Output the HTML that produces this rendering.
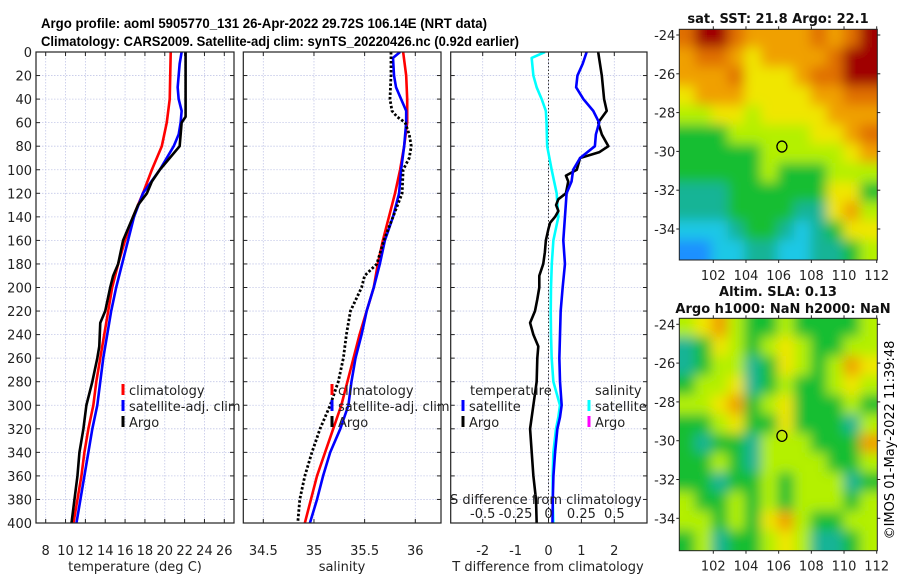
<!DOCTYPE html>
<html><head><meta charset="utf-8"><style>
html,body{margin:0;padding:0;background:#fff;}
svg{display:block;font-family:"DejaVu Sans","Liberation Sans",sans-serif;}
</style></head><body>
<svg id="fig" width="900" height="580" viewBox="0 0 900 580" xmlns="http://www.w3.org/2000/svg">
<defs>
<filter id="blur1" filterUnits="userSpaceOnUse" x="600" y="0" width="300" height="580"><feGaussianBlur stdDeviation="6"/></filter>
<clipPath id="clipMap1"><rect x="679.3" y="29.3" width="198" height="230.7"/></clipPath>
<clipPath id="clipMap2"><rect x="679.3" y="318.3" width="198" height="232.4"/></clipPath>
<clipPath id="clipP1"><rect x="36" y="52" width="198" height="471"/></clipPath>
<clipPath id="clipP2"><rect x="243.3" y="52" width="197.7" height="471"/></clipPath>
<clipPath id="clipP3"><rect x="450.7" y="52" width="196.3" height="471"/></clipPath>
</defs>
<text x="41" y="28" font-size="14" font-weight="bold" font-family="Liberation Sans, sans-serif" textLength="446" lengthAdjust="spacingAndGlyphs">Argo profile: aoml 5905770_131 26-Apr-2022 29.72S 106.14E (NRT data)</text>
<text x="41" y="46" font-size="14" font-weight="bold" font-family="Liberation Sans, sans-serif" textLength="478" lengthAdjust="spacingAndGlyphs">Climatology: CARS2009. Satellite-adj clim: synTS_20220426.nc (0.92d earlier)</text>
<g id="g1"></g>
<g id="g2"></g>
<g id="g3"></g>
<g id="m1"></g>
<g id="m2"></g>
<text transform="translate(894,440) rotate(-90)" text-anchor="middle" font-size="13">©IMOS 01-May-2022 11:39:48</text>
</svg>
<script>
const depth = [0,20,40,60,80,100,120,140,160,180,200,220,240,260,280,300,320,340,360,380,400];
const tempClim = [20.6,20.55,20.5,20.2,19.7,18.7,17.8,16.8,16.0,15.3,14.7,14.3,13.9,13.5,13.1,12.8,12.3,11.9,11.6,11.2,10.8];
const tempSatDepth = [0,10,30,40,50,60,70,80,90,100,120,140,160,180,200,220,240,260,280,300,320,340,360,380,400];
const tempSat = [21.7,21.5,21.3,21.4,21.7,21.6,21.4,20.9,20.2,19.5,17.8,16.9,16.3,15.7,15.1,14.6,14.2,13.8,13.5,13.2,12.7,12.3,11.9,11.5,11.1];
const tempArgoDepth = [0,20,40,55,60,80,90,100,110,120,130,140,150,160,180,190,200,220,230,250,260,280,300,320,340,360,380,400];
const tempArgo = [22.1,22.1,22.1,22.1,21.7,21.5,20.5,19.5,18.7,18.2,17.3,16.8,16.3,15.8,15.3,14.8,14.5,14.0,13.5,13.4,13.2,12.7,12.1,11.8,11.4,11.2,10.9,10.6];
const salClim = [35.88,35.91,35.92,35.92,35.89,35.85,35.80,35.74,35.68,35.63,35.59,35.52,35.45,35.39,35.33,35.27,35.19,35.11,35.03,34.97,34.91];
const salSatDepth = [0,5,20,30,40,50,60,80,100,120,140,160,180,200,220,240,260,280,300,320,340,360,380,400];
const salSat = [35.85,35.78,35.79,35.81,35.86,35.91,35.91,35.89,35.86,35.84,35.78,35.70,35.65,35.59,35.52,35.47,35.41,35.37,35.34,35.26,35.16,35.09,35.03,34.96];
const salArgoDepth = [0,20,40,50,55,60,70,80,90,100,120,140,160,180,190,200,220,240,260,280,300,320,340,360,380,400];
const salArgo = [35.76,35.76,35.75,35.77,35.82,35.90,35.94,35.96,35.94,35.88,35.87,35.78,35.69,35.62,35.50,35.47,35.36,35.32,35.29,35.24,35.16,35.06,34.98,34.91,34.86,34.84];
const dTSatDepth = [0,10,20,30,40,50,60,70,80,90,100,110,120,140,160,180,200,220,240,260,280,300,310,320,340,360,380,400];
const dTSat = [1.16,1.04,0.88,0.84,1.06,1.36,1.54,1.44,1.41,0.96,0.75,0.70,0.55,0.50,0.45,0.50,0.43,0.37,0.35,0.33,0.35,0.40,0.35,0.27,0.20,0.15,0.13,0.12];
const dTArgoDepth = [0,20,40,50,60,70,80,85,90,100,105,110,120,125,130,135,140,145,150,160,170,180,190,200,210,220,230,240,250,260,280,300,320,340,360,380,400];
const dTArgo = [1.51,1.62,1.69,1.77,1.51,1.62,1.82,1.55,0.96,0.86,0.53,0.60,0.53,0.30,0.23,0.30,0.20,0.05,0.0,-0.08,-0.11,-0.16,-0.28,-0.28,-0.34,-0.41,-0.56,-0.46,-0.31,-0.34,-0.36,-0.46,-0.56,-0.51,-0.46,-0.38,-0.36];
const dSSatDepth = [0,5,20,30,40,50,60,80,100,120,140,160,180,200,220,240,260,280,300,310,320,340,360,380,400];
const dSSat = [-0.027,-0.128,-0.115,-0.09,-0.052,-0.02,-0.015,-0.01,0.024,0.062,0.075,0.037,0.025,0.019,0.017,0.019,0.024,0.037,0.087,0.075,0.057,0.037,0.032,0.032,0.037];
const depthTicks = [0,20,40,60,80,100,120,140,160,180,200,220,240,260,280,300,320,340,360,380,400];
const tempTicks = [8,10,12,14,16,18,20,22,24,26];
const salTicks = [34.5,35,35.5,36];
const salTickLabels = ["34.5","35","35.5","36"];
const dTTicks = [-2,-1,0,1,2];
const dSTicks = [-0.5,-0.25,0,0.25,0.5];
const dSTickLabels = ["-0.5","-0.25","0","0.25","0.5"];
const lonTicks = [102,104,106,108,110,112];
const latTicks = [-24,-26,-28,-30,-32,-34];
const argoLon = 106.2, argoLat = -29.75;
const sstGrid = [
[9,10,10,9,8,8,8,8,9,8,9,10],
[8,9,9,8,7,8,8,8,8,9,10,10],
[8,8,8,9,7,7,7,8,9,9,10,10],
[7,8,8,8,7,7,7,7,8,8,9,9],
[6,6,7,7,6,7,7,7,7,8,8,8],
[5,5,5,6,6,6,6,6,7,7,8,9],
[5,5,5,5,5,6,6,6,6,6,7,8],
[5,5,5,5,5,6,5,5,5,6,6,6],
[4,4,4,5,5,5,5,5,5,7,7,5],
[4,4,4,5,5,5,5,4,4,7,8,6],
[3,3,3,4,5,5,4,3,4,5,7,7],
[2,2,3,3,4,4,3,3,4,4,5,6]];
const slaGrid = [
[6,7,8,6,5,5,6,5,5,5,5,6],
[4,5,7,6,5,6,7,6,5,5,6,6],
[4,5,6,6,4,5,7,6,5,6,8,7],
[5,6,6,7,4,5,6,5,5,6,7,6],
[6,6,7,8,5,6,7,5,5,5,6,5],
[5,5,6,7,5,5,7,5,5,5,4,6],
[5,4,5,5,4,6,6,6,5,5,5,8],
[5,5,6,5,4,6,6,6,6,5,5,6],
[5,5,4,5,5,6,5,6,6,6,4,5],
[6,5,5,6,5,6,5,6,6,6,5,6],
[6,6,5,6,5,7,8,6,5,5,6,6],
[5,6,4,5,5,6,7,6,4,4,5,6]];

const NS="http://www.w3.org/2000/svg";
function mk(parent, tag, attrs, text){
  const e=document.createElementNS(NS,tag);
  for(const k in attrs) e.setAttribute(k,attrs[k]);
  if(text!==undefined) e.textContent=text;
  parent.appendChild(e); return e;
}
const Y0=52, Y1=523;
const yD = d => Y0 + d/400*(Y1-Y0);
function lin(d0,d1,p0,p1){ return v => p0 + (v-d0)/(d1-d0)*(p1-p0); }

function frame(g, x0, x1, xs, xticks, xlabels, showY){
  for(const t of depthTicks){
    const y=yD(t);
    const gl=mk(g,'line',{x1:x0,x2:x1,y1:y,y2:y,stroke:'#c4c8e8','stroke-width':0.8,'stroke-dasharray':'1.5,1.5'});
    
    
    mk(g,'line',{x1:x0,x2:x0+4,y1:y,y2:y,stroke:'#222','stroke-width':1});
    mk(g,'line',{x1:x1-4,x2:x1,y1:y,y2:y,stroke:'#222','stroke-width':1});
    if(showY){
      const tl=mk(g,'text',{x:x0-4,y:y+5,'text-anchor':'end','font-size':13,fill:'#222'},String(t));
      
      
    }
  }
  xticks.forEach((t,i)=>{
    const x=xs(t);
    const gl=mk(g,'line',{x1:x,x2:x,y1:Y0,y2:Y1,stroke:'#c4c8e8','stroke-width':0.8,'stroke-dasharray':'1.5,1.5'});
    
    
    mk(g,'line',{x1:x,x2:x,y1:Y0,y2:Y0+4,stroke:'#222','stroke-width':1});
    mk(g,'line',{x1:x,x2:x,y1:Y1-4,y2:Y1,stroke:'#222','stroke-width':1});
    if(xlabels){
      const tl=mk(g,'text',{x:x,y:555,'text-anchor':'middle','font-size':13,fill:'#222'},xlabels[i]);
      
      
    }
  });
}
function box(g,x0,x1){
  const b=mk(g,'rect',{x:x0,y:Y0,width:x1-x0,height:Y1-Y0,fill:'none',stroke:'#222','stroke-width':1.2});
  
  
}
function line(g, xs, xv, dv, color, name, clip, dash, w){
  const pts = xv.map((v,i)=> xs(v).toFixed(2)+','+yD(dv[i]).toFixed(2)).join(' ');
  const a={points:pts,fill:'none',stroke:color,'stroke-width':w||2.6,'stroke-linejoin':'round','clip-path':'url(#'+clip+')'};
  if(dash) a['stroke-dasharray']=dash;
  const p=mk(g,'polyline',a);
  
  
}
function legendItem(g,x,y,color,label,name){
  const e=mk(g,'g',{});
  
  
  mk(e,'rect',{x:x-1.5,y:y-6,width:3,height:11,fill:color});
  mk(e,'text',{x:x+6,y:y+5,'font-size':13,fill:'#222'},label);
}

// Panel 1
const g1=document.getElementById('g1');
const xT = lin(8,26,45.7,224.3);
frame(g1,36,234,xT,tempTicks,tempTicks.map(String),true);
line(g1,xT,tempClim,depth,'#ff0000','climatology-temp-line','clipP1');
line(g1,xT,tempSat,tempSatDepth,'#0000ff','satellite-temp-line','clipP1');
line(g1,xT,tempArgo,tempArgoDepth,'#000000','argo-temp-line','clipP1');
box(g1,36,234);
legendItem(g1,123,390,'#ff0000','climatology','legend-climatology');
legendItem(g1,123,406,'#0000ff','satellite-adj. clim','legend-satellite-adj');
legendItem(g1,123,422,'#000000','Argo','legend-argo');
const xl1=mk(g1,'text',{x:135,y:571,'text-anchor':'middle','font-size':13,fill:'#222'},'temperature (deg C)');



// Panel 2
const g2=document.getElementById('g2');
const xS = lin(34.5,36,263.3,415.3);
frame(g2,243.3,441,xS,salTicks,salTickLabels,false);
line(g2,xS,salClim,depth,'#ff0000','climatology-salinity-line','clipP2');
line(g2,xS,salSat,salSatDepth,'#0000ff','satellite-salinity-line','clipP2');
line(g2,xS,salArgo,salArgoDepth,'#000000','argo-salinity-line','clipP2','2.5,2',2.8);
box(g2,243.3,441);
legendItem(g2,332,390,'#ff0000','climatology','legend-climatology-2');
legendItem(g2,332,406,'#0000ff','satellite-adj. clim','legend-satellite-adj-2');
legendItem(g2,332,422,'#000000','Argo','legend-argo-2');
const xl2=mk(g2,'text',{x:342,y:571,'text-anchor':'middle','font-size':13,fill:'#222'},'salinity');



// Panel 3
const g3=document.getElementById('g3');
const xDT = lin(-2,2,482.7,614.3);
const xDS = lin(-0.5,0.5,482.7,614.3);
frame(g3,450.7,647,xDT,dTTicks,dTTicks.map(String),false);
const zl=mk(g3,'line',{x1:xDT(0),x2:xDT(0),y1:Y0,y2:Y1,stroke:'#333','stroke-width':1,'stroke-dasharray':'1.5,2'});


line(g3,xDS,dSSat,dSSatDepth,'#00ffff','satellite-salinity-diff-line','clipP3');
line(g3,xDT,dTArgo,dTArgoDepth,'#000000','argo-temp-diff-line','clipP3');
line(g3,xDT,dTSat,dTSatDepth,'#0000ff','satellite-temp-diff-line','clipP3');
box(g3,450.7,647);
const lt=mk(g3,'text',{x:470,y:395,'font-size':13,fill:'#222'},'temperature');


legendItem(g3,463,406,'#0000ff','satellite','legend-temp-satellite');
legendItem(g3,463,422,'#000000','Argo','legend-temp-argo');
const ls=mk(g3,'text',{x:595,y:395,'font-size':13,fill:'#222'},'salinity');


legendItem(g3,589,406,'#00ffff','satellite','legend-sal-satellite');
legendItem(g3,589,422,'#ff00ff','Argo','legend-sal-argo');
const st=mk(g3,'text',{x:450,y:504,'font-size':13,fill:'#222'},'S difference from climatology');


dSTicks.forEach((t,i)=>{
  const tl=mk(g3,'text',{x:xDS(t),y:518,'text-anchor':'middle','font-size':13,fill:'#222'},dSTickLabels[i]);
  
  
});
const xl3=mk(g3,'text',{x:548,y:571,'text-anchor':'middle','font-size':13,fill:'#222'},'T difference from climatology');



// Maps
const cmap=['#00008c','#0040e0','#1a90ff','#1ec8e6','#14b496','#14be32','#b4f000','#f0e600','#f0a000','#e07000','#a00000'];
function drawMap(g, grid, y0, y1, latTop, clip, titles){
  const x0=679.3, x1=877.3;
  const xLon = lin(102,112,713.3,876.7);
  const yLat = lin(-24,-34,latTop,latTop+194);
  const rows=grid.length, cols=grid[0].length;
  const cw=(x1-x0)/cols, ch=(y1-y0)/rows;
  const cg=mk(g,'g',{'clip-path':'url(#'+clip+')'});
  const bg=mk(cg,'g',{filter:'url(#blur1)'});
  const E=14;
  grid.forEach((row,r)=>row.forEach((v,c)=>{
    let x=x0+c*cw-1, y=y0+r*ch-1, w=cw+2, h=ch+2;
    if(c===0){x-=E;w+=E;} if(c===cols-1){w+=E;}
    if(r===0){y-=E;h+=E;} if(r===rows-1){h+=E;}
    const cell=mk(bg,'rect',{x:x.toFixed(2),y:y.toFixed(2),width:w.toFixed(2),height:h.toFixed(2),fill:cmap[v]});
    
    
  }));
  const mb=mk(g,'rect',{x:x0,y:y0,width:x1-x0,height:y1-y0,fill:'none',stroke:'#222','stroke-width':1});
  
  
  lonTicks.forEach(t=>{
    const x=xLon(t);
    mk(g,'line',{x1:x,x2:x,y1:y0,y2:y0-3,stroke:'#222'});
    mk(g,'line',{x1:x,x2:x,y1:y1,y2:y1+3,stroke:'#222'});
    const tl=mk(g,'text',{x:x,y:y1+20,'text-anchor':'middle','font-size':13,fill:'#222'},String(t));
    
    
  });
  latTicks.forEach(t=>{
    const y=yLat(t);
    mk(g,'line',{x1:x0,x2:x0-3,y1:y,y2:y,stroke:'#222'});
    mk(g,'line',{x1:x1,x2:x1+3,y1:y,y2:y,stroke:'#222'});
    const tl=mk(g,'text',{x:x0-4,y:y+5,'text-anchor':'end','font-size':13,fill:'#222'},String(t));
    
    
  });
  const m=mk(g,'ellipse',{cx:xLon(argoLon),cy:yLat(argoLat),rx:5,ry:5.5,fill:'none',stroke:'#000','stroke-width':1.3});
  
  
  titles.forEach(tt=>{
    const t=mk(g,'text',{x:tt[1],y:tt[2],'text-anchor':'middle','font-size':13,'font-weight':'bold',fill:'#111'},tt[0]);
    
    
  });
}
drawMap(document.getElementById('m1'),sstGrid,29.3,260,35,'clipMap1',[['sat. SST: 21.8 Argo: 22.1',778,23]]);
drawMap(document.getElementById('m2'),slaGrid,318.3,550.7,324.3,'clipMap2',[['Altim. SLA: 0.13',778,296],['Argo h1000: NaN h2000: NaN',783,313]]);
</script>
</body></html>
